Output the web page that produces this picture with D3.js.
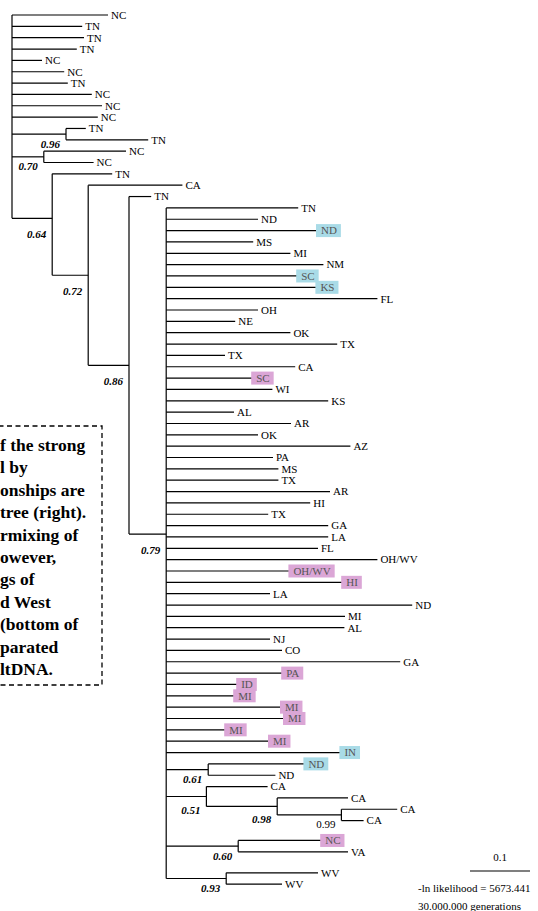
<html>
<head>
<style>
  body { margin: 0; background: #fff; }
  svg { display: block; }
  .branch { stroke: #000; stroke-width: 1.2; fill: none; }
  .tip { font-family: "Liberation Serif", "Times New Roman", serif; font-size: 11px; fill: #000; }
  .tip.marked { fill: #555; }
  .support { font-family: "Liberation Serif", "Times New Roman", serif; font-size: 11px; font-weight: bold; font-style: italic; }
  .support.plain { font-weight: normal; font-style: normal; }
  .note { font-family: "Liberation Serif", "Times New Roman", serif; font-size: 17.5px; font-weight: bold; }
  .foot { font-family: "Liberation Serif", "Times New Roman", serif; font-size: 11px; }
</style>
<script src="https://d3js.org/d3.v7.min.js"></script>
</head>
<body>
<svg width="538" height="911"></svg>
<script>
// internal nodes: id, parent, branch length, support
const nodeIds     = ["root", "c96", "c70", "c64", "c72", "c86", "c79", "c61", "c51", "c98", "c99", "c60", "c93"];
const nodeParents = [null, "root", "root", "root", "c64", "c72", "c86", "c79", "c79", "c51", "c98", "c79", "c79"];
const nodeLens    = [0, 0.090, 0.053, 0.067, 0.060, 0.068, 0.062, 0.070, 0.067, 0.118, 0.107, 0.120, 0.100];
const nodeSupport = [null, "0.96", "0.70", "0.64", "0.72", "0.86", "0.79", "0.61", "0.51", "0.98", "0.99", "0.60", "0.93"];
const plainSupport = ["0.99"];

// tips, top to bottom
const tipLabels = [
  "NC","TN","TN","TN","NC","NC","TN","NC","NC","NC",
  "TN","TN","NC","NC","TN","CA","TN",
  "TN","ND","ND","MS","MI","NM","SC","KS","FL","OH","NE","OK","TX","TX","CA","SC","WI","KS","AL","AR","OK","AZ",
  "PA","MS","TX","AR","HI","TX","GA","LA","FL","OH/WV","OH/WV","HI","LA","ND","MI","AL","NJ","CO","GA",
  "PA","ID","MI","MI","MI","MI","MI","IN",
  "ND","ND","CA","CA","CA","CA","NC","VA","WV","WV"
];
const tipParents = [
  ...Array(10).fill("root"),
  "c96","c96","c70","c70","c64","c72","c86",
  ...Array(49).fill("c79"),
  "c61","c61","c51","c98","c99","c99","c60","c60","c93","c93"
];
const tipLens = [
  0.160,0.117,0.120,0.108,0.050,0.087,0.093,0.133,0.150,0.143,
  0.033,0.137,0.137,0.083,0.100,0.157,0.037,
  0.220,0.153,0.253,0.145,0.207,0.262,0.220,0.252,0.352,0.153,0.115,0.207,0.285,0.098,0.215,0.145,0.177,0.270,0.113,0.208,0.153,0.307,
  0.178,0.187,0.187,0.273,0.240,0.170,0.270,0.270,0.253,0.352,0.207,0.295,0.173,0.410,0.298,0.297,0.173,0.193,0.390,
  0.195,0.120,0.115,0.193,0.198,0.100,0.173,0.292,
  0.162,0.112,0.102,0.118,0.093,0.037,0.140,0.183,0.153,0.093
];
// highlighted tips: b = blue, p = pink
const tipMarks = [
  ...Array(17).fill(""),
  "","","b","","","","b","b","","","","","","","","p","","","","","","",
  "","","","","","","","","","","p","p","","","","","","","",
  "p","p","p","p","p","p","p","b",
  "b","","","","","","p","","",""
];

const noteLines = ["f the strong", "l by", "onships are", "tree (right).", "rmixing of", "owever,",
                   "gs of", "d West", "(bottom of", "parated", "ltDNA."];
const scaleLabel = "0.1";
const footLines = ["-ln likelihood = 5673.441", "30.000.000 generations"];

const markColor = { b: "#a9dbe7", p: "#dba6d6" };

const svg = d3.select("svg");

const rows = [
  ...tipLabels.map((t, i) => ({ id: "t" + i, parent: tipParents[i], len: tipLens[i], label: t, mark: tipMarks[i] })),
  ...nodeIds.map((n, i) => ({ id: n, parent: nodeParents[i], len: nodeLens[i], support: nodeSupport[i] }))
];
const root = d3.stratify().id(d => d.id).parentId(d => d.parent)(rows);

const x = d3.scaleLinear().domain([0, 1]).range([12, 612]);
const y = d3.scaleLinear().domain([0, tipLabels.length - 1]).range([15, 866]);

root.eachBefore(n => { n.dist = n.parent ? n.parent.dist + n.data.len : 0; });
root.leaves().forEach((l, i) => { l.py = y(i); });
root.eachAfter(n => {
  if (n.children) n.py = (n.children[0].py + n.children[n.children.length - 1].py) / 2;
});

// hand-placed bits of the original drawing: the last two clades sit lower,
// and the 0.64 node a little higher than the midpoint rule gives
const step = y(1) - y(0);
[["c60", 0.75], ["c93", 1.6]].forEach(([id, r]) => {
  root.find(n => n.id === id).each(n => { n.py += r * step; });
});
root.find(n => n.id === "c64").py -= 0.55 * step;

const g = svg.append("g");

// horizontal branches
g.selectAll("line.h")
  .data(root.descendants().filter(n => n.parent))
  .enter().append("line")
  .attr("class", "branch")
  .attr("x1", d => x(d.parent.dist)).attr("x2", d => x(d.dist))
  .attr("y1", d => d.py).attr("y2", d => d.py);

// vertical connectors
g.selectAll("line.v")
  .data(root.descendants().filter(n => n.children))
  .enter().append("line")
  .attr("class", "branch")
  .attr("x1", d => x(d.dist)).attr("x2", d => x(d.dist))
  .attr("y1", d => d.children[0].py).attr("y2", d => d.children[d.children.length - 1].py);

// tip labels with highlight boxes
const tips = g.selectAll("g.tipg")
  .data(root.leaves())
  .enter().append("g");

tips.append("rect")
  .attr("class", "hl");

tips.append("text")
  .attr("class", d => "tip" + (d.data.mark ? " marked" : ""))
  .attr("x", d => x(d.dist) + 3)
  .attr("y", d => d.py)
  .attr("dy", "0.35em")
  .text(d => d.data.label);

tips.each(function(d) {
  if (!d.data.mark) { d3.select(this).select("rect").remove(); return; }
  const w = d3.select(this).select("text").node().getComputedTextLength();
  d3.select(this).select("rect")
    .attr("x", x(d.dist) - 2)
    .attr("y", d.py - 6.5)
    .attr("width", w + 9)
    .attr("height", 13)
    .attr("fill", markColor[d.data.mark]);
});

// support values, tucked under the branch leading to each node
g.selectAll("text.support")
  .data(root.descendants().filter(n => n.data.support))
  .enter().append("text")
  .attr("class", d => "support" + (plainSupport.includes(d.data.support) ? " plain" : ""))
  .attr("text-anchor", "end")
  .attr("x", d => x(d.dist) - 6)
  .attr("y", d => {
    const half = (d.children[d.children.length - 1].py - d.children[0].py) / 2;
    return d.py + Math.min(half + 4, 16);
  })
  .attr("dy", "0.35em")
  .text(d => d.data.support);

// dashed note box on the left
svg.append("rect")
  .attr("x", -10).attr("y", 426).attr("width", 112).attr("height", 259)
  .attr("fill", "none").attr("stroke", "#000").attr("stroke-width", 1.3)
  .attr("stroke-dasharray", "5,3.5");

svg.selectAll("text.note")
  .data(noteLines)
  .enter().append("text")
  .attr("class", "note")
  .attr("x", 0)
  .attr("y", (d, i) => 451 + i * 22.4)
  .text(d => d);

// scale bar
svg.append("line")
  .attr("class", "branch")
  .attr("x1", 470).attr("x2", 470 + x(0.1) - x(0))
  .attr("y1", 871).attr("y2", 871);
svg.append("text")
  .attr("class", "foot")
  .attr("x", 470 + (x(0.1) - x(0)) / 2).attr("y", 861)
  .attr("text-anchor", "middle")
  .text(scaleLabel);
svg.selectAll("text.footl")
  .data(footLines)
  .enter().append("text")
  .attr("class", "foot")
  .attr("x", 418)
  .attr("y", (d, i) => 892 + i * 18)
  .text(d => d);
</script>
</body>
</html>
